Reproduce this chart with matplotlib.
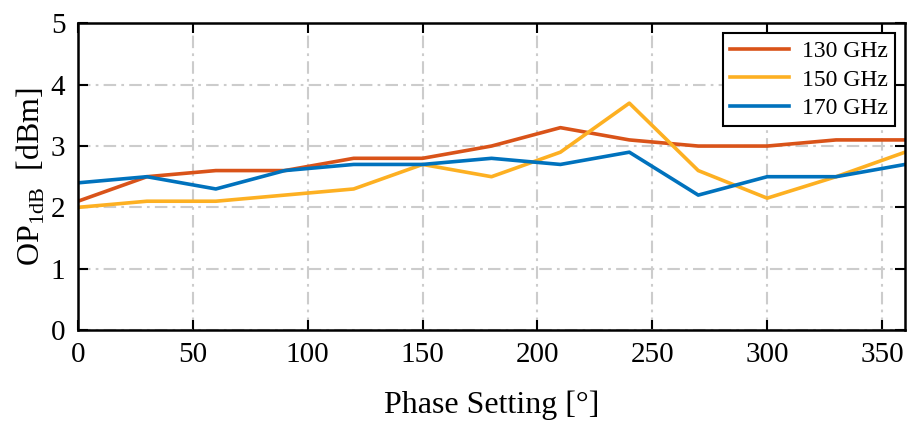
import matplotlib
matplotlib.use("Agg")
import matplotlib.pyplot as plt

phase = [0, 30, 60, 90, 120, 150, 180, 210, 240, 270, 300, 330, 360]
op_130 = [2.1, 2.5, 2.6, 2.6, 2.8, 2.8, 3.0, 3.3, 3.1, 3.0, 3.0, 3.1, 3.1]
op_150 = [2.0, 2.1, 2.1, 2.2, 2.3, 2.7, 2.5, 2.9, 3.7, 2.6, 2.15, 2.5, 2.9]
op_170 = [2.4, 2.5, 2.3, 2.6, 2.7, 2.7, 2.8, 2.7, 2.9, 2.2, 2.5, 2.5, 2.7]
labels = ["130 GHz", "150 GHz", "170 GHz"]
colors = ["#D95319", "#FDB022", "#0072BD"]
xticks = [0, 50, 100, 150, 200, 250, 300, 350]
yticks = [0, 1, 2, 3, 4, 5]

plt.rcParams["font.family"] = ["Liberation Serif", "DejaVu Serif"]
plt.rcParams["mathtext.fontset"] = "custom"
plt.rcParams["mathtext.rm"] = "Liberation Serif"

fig = plt.figure(figsize=(9.09, 4.26), dpi=100)
ax = fig.add_axes([0.0858, 0.2254, 0.9098, 0.7196])

for y, lab, c in zip([op_130, op_150, op_170], labels, colors):
    ax.plot(phase, y, color=c, lw=2.6, label=lab)

ax.set_xlim(0, 360)
ax.set_ylim(0, 5)
ax.set_xticks(xticks)
ax.set_yticks(yticks)
ax.grid(True, color="#cccccc", lw=1.5, linestyle=(0, (6, 2.5, 1.3, 2.5)))
ax.set_axisbelow(True)
ax.tick_params(direction="in", top=True, right=True, length=7, width=1.5,
               labelsize=21, pad=9, color="black")
for s in ax.spines.values():
    s.set_linewidth(1.8)
    s.set_color("black")

ax.set_xlabel("Phase Setting [°]", fontsize=23, labelpad=16)
ax.set_ylabel(r"OP$_{\mathrm{1dB}}$  [dBm]", fontsize=23, labelpad=3)

leg = ax.legend(loc="upper right", fontsize=17, frameon=True, fancybox=False,
                edgecolor="black", framealpha=1, handlelength=2.5,
                borderaxespad=0.42, labelspacing=0.3, borderpad=0.3,
                handletextpad=0.55)
leg.get_frame().set_linewidth(1.5)

fig.savefig("out.png", dpi=100)
